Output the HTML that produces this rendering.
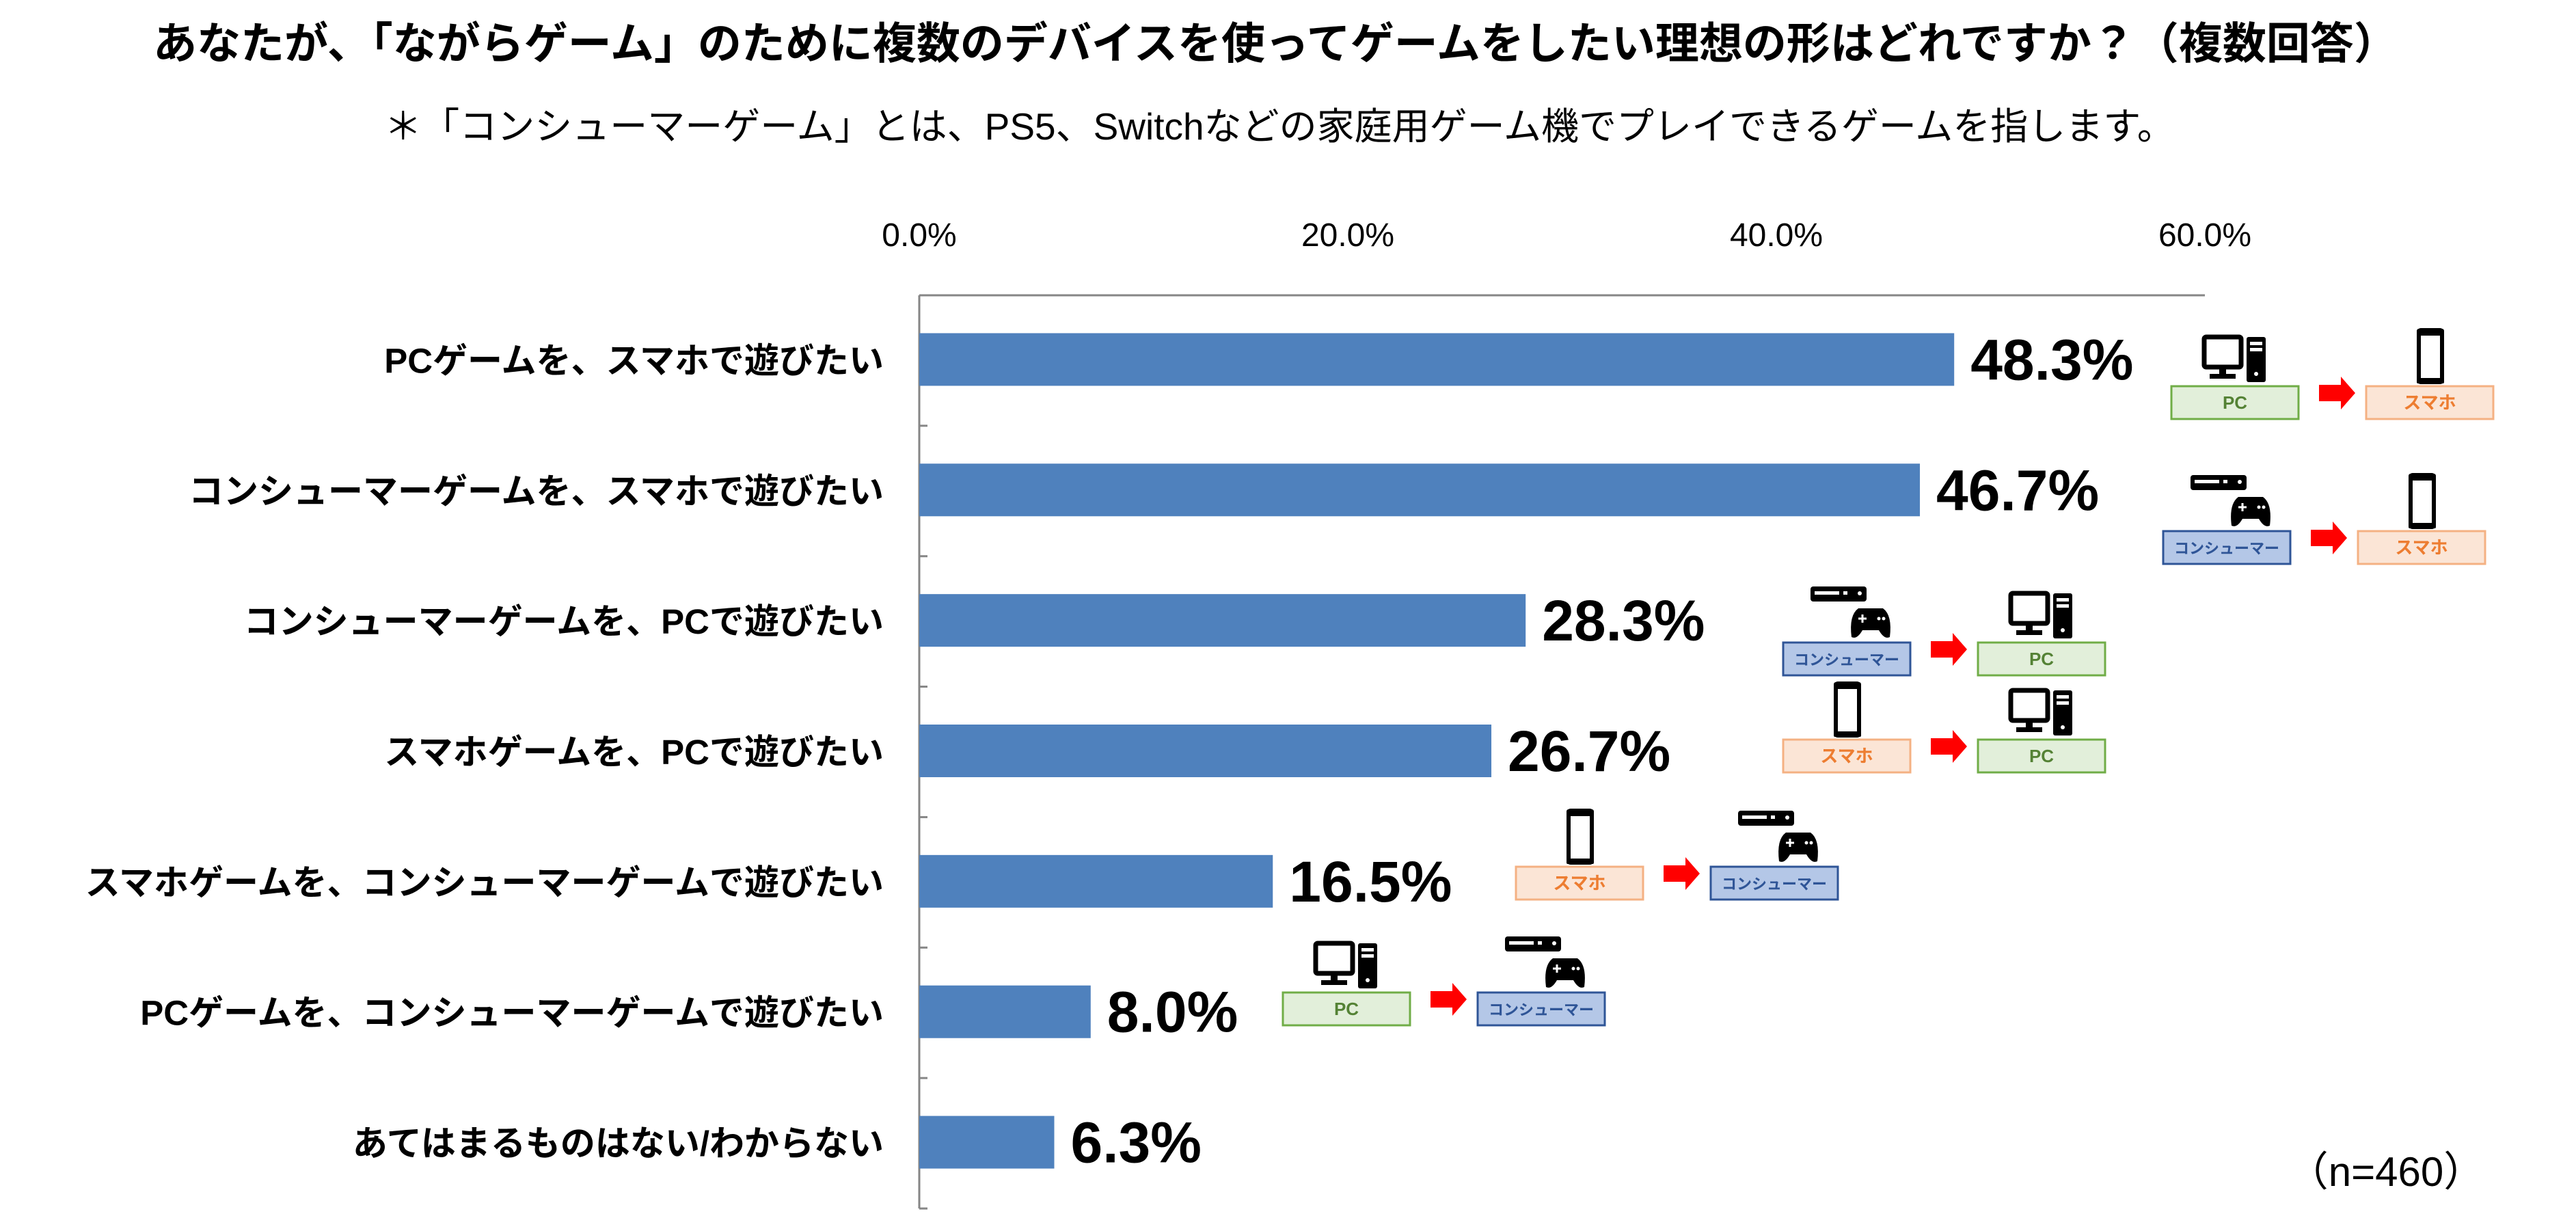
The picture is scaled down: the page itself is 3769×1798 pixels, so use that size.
<!DOCTYPE html>
<html><head><meta charset="utf-8">
<style>
html,body{margin:0;padding:0;background:#fff;}
body{width:3769px;height:1793px;overflow:hidden;font-family:"Liberation Sans","Noto Sans CJK JP",sans-serif;}
svg text{font-family:"Liberation Sans","Noto Sans CJK JP",sans-serif;}
</style></head>
<body>
<svg id="chart" width="3769" height="1793" viewBox="0 0 3769 1793" xmlns="http://www.w3.org/2000/svg">
<text x="1866" y="86" text-anchor="middle" font-size="64" font-weight="bold" fill="#000">あなたが、「ながらゲーム」のために複数のデバイスを使ってゲームをしたい理想の形はどれですか？（複数回答）</text>
<text x="1872" y="204" text-anchor="middle" font-size="55" fill="#000">＊「コンシューマーゲーム」とは、PS5、Switchなどの家庭用ゲーム機でプレイできるゲームを指します。</text>
<text x="3491" y="1735" text-anchor="middle" font-size="60" fill="#000">（n=460）</text>
<g id="plot"></g>
<g id="icons"></g>
</svg>
<script>
const categories = ["PCゲームを、スマホで遊びたい","コンシューマーゲームを、スマホで遊びたい","コンシューマーゲームを、PCで遊びたい","スマホゲームを、PCで遊びたい","スマホゲームを、コンシューマーゲームで遊びたい","PCゲームを、コンシューマーゲームで遊びたい","あてはまるものはない/わからない"];
const values = [48.3,46.7,28.3,26.7,16.5,8.0,6.3];
const tickValues = [0,20,40,60];
const tickLabels = ["0.0%","20.0%","40.0%","60.0%"];

const NS="http://www.w3.org/2000/svg";
const X0=1345, X1=3226, XMAX=60, YTOP=432, YBOT=1768;
const band=(YBOT-YTOP)/categories.length;
function xs(v){return X0+(v/XMAX)*(X1-X0);}
function yc(i){return YTOP+band*(i+0.5);}
function mk(tag,attrs,parent){const e=document.createElementNS(NS,tag);for(const k in attrs)e.setAttribute(k,attrs[k]);parent.appendChild(e);return e;}
const plot=document.getElementById('plot');

tickValues.forEach((t,i)=>{
  const tx=mk('text',{x:xs(t),y:360,'text-anchor':'middle','font-size':48,fill:'#000'},plot);
  
  
  tx.textContent=tickLabels[i];
});
const topLine=mk('line',{x1:X0,y1:YTOP,x2:X1,y2:YTOP,stroke:'#868686','stroke-width':3},plot);


const axLine=mk('line',{x1:X0,y1:YTOP,x2:X0,y2:YBOT,stroke:'#868686','stroke-width':3},plot);


for(let i=1;i<=categories.length;i++){
  const tk=mk('line',{x1:X0,y1:YTOP+band*i,x2:X0+12,y2:YTOP+band*i,stroke:'#868686','stroke-width':3},plot);
  
  
}
categories.forEach((c,i)=>{
  const y=yc(i);
  const lb=mk('text',{x:1293,y:y+18,'text-anchor':'end','font-size':51,'font-weight':'bold',fill:'#000'},plot);
  
  
  lb.textContent=c;
  const b=mk('rect',{x:X0,y:y-40,width:xs(values[i])-X0,height:77,fill:'#4f81bd'},plot);
  
  
  const v=mk('text',{x:xs(values[i])+24,y:y+28,'font-size':84,'font-weight':'bold',fill:'#000'},plot);
  
  
  v.textContent=values[i].toFixed(1)+'%';
});

const icons=document.getElementById('icons');
const styles={pc:{t:'PC',bg:'#e2efda',bd:'#70ad47',fg:'#548235'},sp:{t:'スマホ',bg:'#fbe5d6',bd:'#f4b183',fg:'#ed7d31'},cs:{t:'コンシューマー',bg:'#b4c7e7',bd:'#2f5597',fg:'#2f5597'}};
function device(type,x,y,g){
  const s=styles[type];
  const r=mk('rect',{x:x,y:y,width:186,height:48,fill:s.bg,stroke:s.bd,'stroke-width':3},g);
  
  
  const t=mk('text',{x:x+93,y:y+33,'text-anchor':'middle','font-size':type==='cs'?22:26,'font-weight':'bold',fill:s.fg},g);
  
  
  t.textContent=s.t;
  if(type==='pc'){
    mk('rect',{x:x+48,y:y-72,width:54,height:44,fill:'none',stroke:'#000','stroke-width':7,rx:3},g);
    mk('rect',{x:x+70,y:y-28,width:10,height:10,fill:'#000'},g);
    mk('rect',{x:x+56,y:y-18,width:38,height:7,fill:'#000'},g);
    mk('rect',{x:x+110,y:y-72,width:28,height:66,fill:'#000',rx:3},g);
    mk('rect',{x:x+115,y:y-65,width:18,height:5,fill:'#fff'},g);
    mk('rect',{x:x+115,y:y-56,width:18,height:5,fill:'#fff'},g);
    mk('circle',{cx:x+124,cy:y-18,r:3,fill:'#fff'},g);
  }else if(type==='sp'){
    mk('rect',{x:x+77,y:y-82,width:34,height:76,fill:'none',stroke:'#000','stroke-width':6,rx:3},g);
    mk('rect',{x:x+74,y:y-84,width:40,height:10,fill:'#000',rx:3},g);
    mk('rect',{x:x+74,y:y-12,width:40,height:8,fill:'#000',rx:2},g);
  }else{
    mk('rect',{x:x+40,y:y-82,width:82,height:22,fill:'#000',rx:4},g);
    mk('rect',{x:x+46,y:y-75,width:36,height:5,fill:'#fff'},g);
    mk('rect',{x:x+88,y:y-75,width:6,height:5,fill:'#fff'},g);
    mk('circle',{cx:x+112,cy:y-72,r:3,fill:'#fff'},g);
    mk('path',{d:`M${x+100} ${y-8} Q${x+96} ${y-40} ${x+110} ${y-50} L${x+146} ${y-50} Q${x+160} ${y-40} ${x+156} ${y-8} Q${x+148} ${y-4} ${x+140} ${y-18} L${x+116} ${y-18} Q${x+108} ${y-4} ${x+100} ${y-8} Z`,fill:'#000'},g);
    mk('path',{d:`M${x+110} ${y-35} h12 M${x+116} ${y-41} v12`,stroke:'#fff','stroke-width':3},g);
    mk('circle',{cx:x+140,cy:y-35,r:2.5,fill:'#fff'},g);
    mk('circle',{cx:x+147,cy:y-35,r:2.5,fill:'#fff'},g);
  }
}
const groups=[["pc","sp",3177,565],["cs","sp",3165,777],["cs","pc",2609,940],["sp","pc",2609,1082],["sp","cs",2218,1268],["pc","cs",1877,1452]];
groups.forEach(gr=>{
  const g=mk('g',{},icons);
  
  
  const [a,b,x,y]=gr;
  device(a,x,y,g);
  const ar=mk('path',{d:`M${x+216} ${y-2} h32 v-12 l21 24 l-21 24 v-12 h-32 Z`,fill:'#ff0000'},g);
  
  
  device(b,x+285,y,g);
});
</script>
</body></html>
